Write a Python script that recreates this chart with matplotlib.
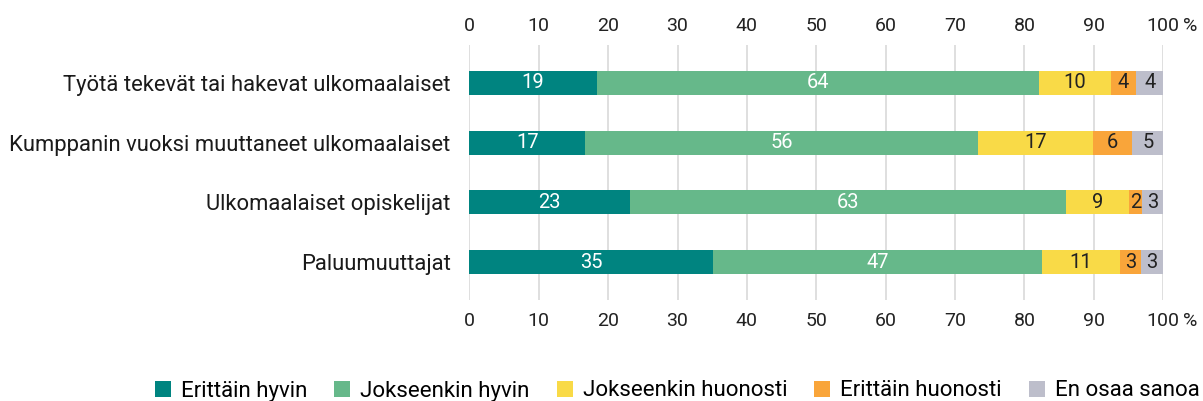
import matplotlib
matplotlib.use("Agg")
import matplotlib.pyplot as plt
import numpy as np

categories = [
    "Työtä tekevät tai hakevat ulkomaalaiset",
    "Kumppanin vuoksi muuttaneet ulkomaalaiset",
    "Ulkomaalaiset opiskelijat",
    "Paluumuuttajat",
]
series_names = ["Erittäin hyvin", "Jokseenkin hyvin", "Jokseenkin huonosti",
                "Erittäin huonosti", "En osaa sanoa"]
# estimated shares (%) per category, in series order
erittain_hyvin = [18.4, 16.7, 23.2, 35.1]
jokseenkin_hyvin = [63.7, 56.6, 62.8, 47.4]
jokseenkin_huonosti = [10.3, 16.6, 9.1, 11.3]
erittain_huonosti = [3.7, 5.6, 1.8, 3.0]
en_osaa_sanoa = [3.9, 4.5, 3.1, 3.2]
# printed labels
labels_eh = [19, 17, 23, 35]
labels_jh = [64, 56, 63, 47]
labels_jhu = [10, 17, 9, 11]
labels_ehu = [4, 6, 2, 3]
labels_eos = [4, 5, 3, 3]
xticks = [0, 10, 20, 30, 40, 50, 60, 70, 80, 90, 100]

values = [erittain_hyvin, jokseenkin_hyvin, jokseenkin_huonosti, erittain_huonosti, en_osaa_sanoa]
labels = [labels_eh, labels_jh, labels_jhu, labels_ehu, labels_eos]
colors = ["#008480", "#66B88A", "#F9DA47", "#F9A53A", "#BDBECB"]
text_colors = ["white", "white", "#222222", "#222222", "#222222"]

plt.rcParams['font.family'] = ['Roboto', 'DejaVu Sans']

W, H = 1203, 401
fig = plt.figure(figsize=(W / 100, H / 100), dpi=100)
left = 469.3 / W
right = 1163.3 / W
top = 1 - 45 / H
bottom = 1 - 300 / H
ax = fig.add_axes([left, bottom, right - left, top - bottom])

y = np.arange(len(categories))
cum = np.zeros(len(categories))
for vals, labs, c, tc, name in zip(values, labels, colors, text_colors, series_names):
    vals = np.array(vals)
    bars = ax.barh(y, vals, left=cum, height=0.4, color=c, label=name, zorder=2)
    ax.bar_label(bars, labels=[str(l) for l in labs], label_type='center',
                 color=tc, fontsize=14.5)
    cum += vals

TOP_PAD, BOTTOM_PAD = 7, 9
ax.set_xlim(0, 100)
ax.set_ylim(len(categories) - 1 + 0.633, -0.633)
ax.set_yticks(y)
ax.set_yticklabels(categories, fontsize=15.8, color="#1a1a1a")
ax.set_xticks(xticks)
ax.set_xticklabels([str(t) for t in xticks])
ax.tick_params(axis='x', which='both', length=0, labelsize=14, labelcolor="#222222",
               pad=BOTTOM_PAD)
ax.tick_params(axis='y', length=0, pad=13.5)
for s in ax.spines.values():
    s.set_visible(False)
ax.grid(axis='x', color="#D9D9D9", linewidth=1.2, zorder=0)
ax.set_axisbelow(True)

sec = ax.secondary_xaxis('top')
sec.set_xticks(xticks)
sec.set_xticklabels([str(t) for t in xticks])
sec.tick_params(length=0, labelsize=14, labelcolor="#222222", pad=TOP_PAD)
for s in sec.spines.values():
    s.set_visible(False)

# percent sign after the "100" tick labels
ax.annotate("%", xy=(1, 1), xycoords='axes fraction', xytext=(14.2, TOP_PAD),
            textcoords='offset points', ha='left', va='bottom', fontsize=14,
            color="#222222", annotation_clip=False)
ax.annotate("%", xy=(1, 0), xycoords='axes fraction', xytext=(14.2, -BOTTOM_PAD),
            textcoords='offset points', ha='left', va='top', fontsize=14,
            color="#222222", annotation_clip=False)

fig.legend(loc='center left', bbox_to_anchor=(155 / W, 1 - 391 / H), ncol=5,
           frameon=False, fontsize=16, handlelength=0.73, handleheight=0.73,
           handletextpad=0.45, columnspacing=1.2, borderpad=0, borderaxespad=0)

fig.savefig("out.png", dpi=100)
